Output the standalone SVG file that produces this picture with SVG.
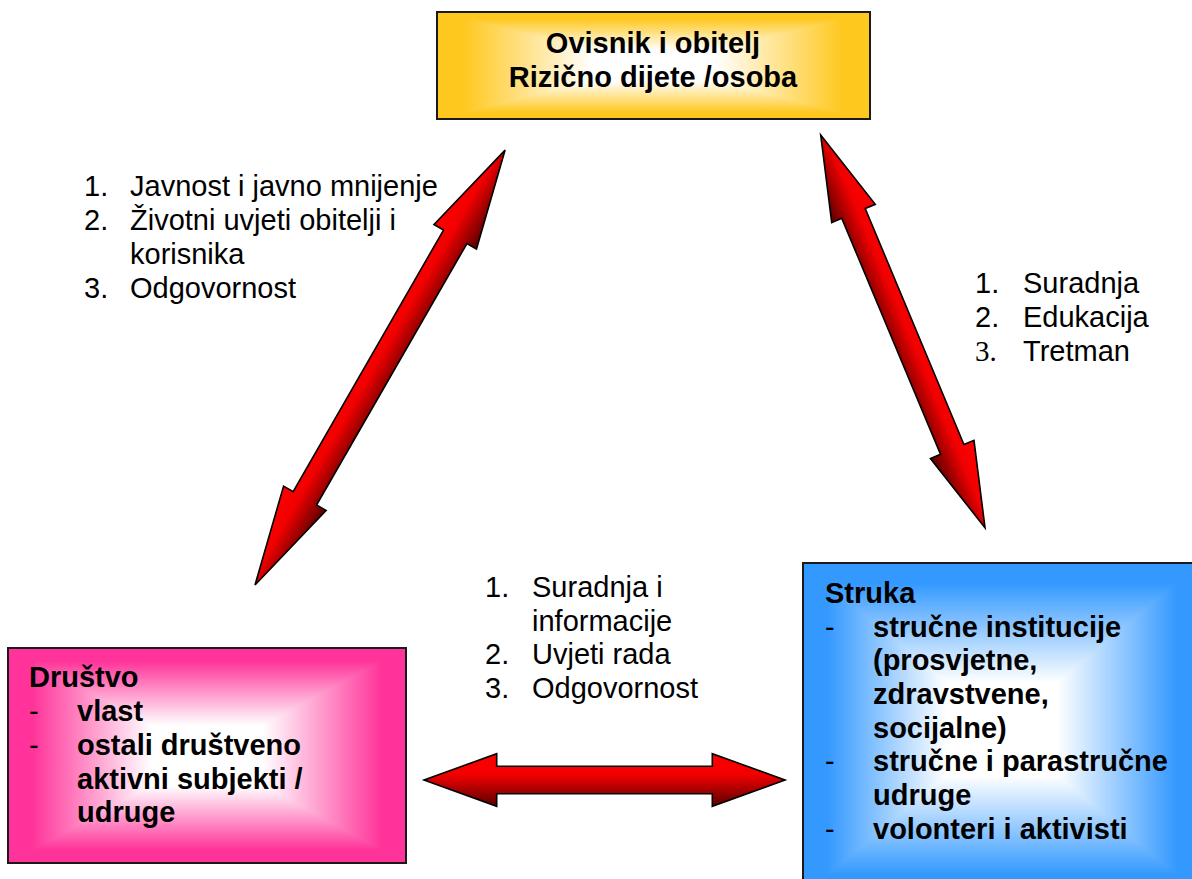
<svg xmlns="http://www.w3.org/2000/svg" xmlns:xlink="http://www.w3.org/1999/xlink" width="1192" height="879" viewBox="0 0 1192 879">
<style>
  .t { font-family: "Liberation Sans", Arial, sans-serif; font-size: 29px; fill: #000; }
  .b { font-weight: bold; }
  .s { font-family: "Liberation Serif", "Times New Roman", serif; font-size: 29px; fill: #000; }
  .box { fill: none; stroke: #1a1a1a; stroke-width: 2; }
  .tri { shape-rendering: crispEdges; }
  .arrow { stroke: #000; stroke-width: 1.6; stroke-linejoin: miter; fill: url(#red); }
</style>
<defs>
  <linearGradient id="wT" x1="0" y1="0" x2="0" y2="1">
    <stop offset="0" stop-color="#fff" stop-opacity="0"/>
    <stop offset="0.12" stop-color="#fff" stop-opacity="0"/>
    <stop offset="0.72" stop-color="#fff" stop-opacity="1"/>
    <stop offset="1" stop-color="#fff" stop-opacity="1"/>
  </linearGradient>
  <linearGradient id="wB" xlink:href="#wT" x1="0" y1="1" x2="0" y2="0"/>
  <linearGradient id="wL" xlink:href="#wT" x1="0" y1="0" x2="1" y2="0"/>
  <linearGradient id="wR" xlink:href="#wT" x1="1" y1="0" x2="0" y2="0"/>
  <linearGradient id="red" x1="0" y1="0" x2="0" y2="1">
    <stop offset="0" stop-color="#ff0000"/>
    <stop offset="0.4" stop-color="#f20000"/>
    <stop offset="0.8" stop-color="#8c0000"/>
    <stop offset="1" stop-color="#5a0000"/>
  </linearGradient>
</defs>

<g id="connectors">
  <path class="arrow" transform="translate(255,585) rotate(-60.1)" d="M0,0 L100,-24.5 L100,-13.5 L401.7,-13.5 L401.7,-24.5 L501.7,0 L401.7,24.5 L401.7,13.5 L100,13.5 L100,24.5 Z"/>
  <path class="arrow" transform="translate(820.7,135) rotate(67.3)" d="M0,0 L85,-23.6 L85,-12.7 L340.8,-12.7 L340.8,-23.6 L425.8,0 L340.8,23.6 L340.8,12.7 L85,12.7 L85,23.6 Z"/>
  <path class="arrow" d="M424,780 L496.7,753.7 L496.7,766.3 L712.3,766.3 L712.3,753.7 L785,780 L712.3,806.3 L712.3,793.7 L496.7,793.7 L496.7,806.3 Z"/>
</g>

<g id="label-left">
  <text class="t" x="84" y="196">1.</text><text class="t" x="130" y="196">Javnost i javno mnijenje</text>
  <text class="t" x="84" y="230">2.</text><text class="t" x="130" y="230">Životni uvjeti obitelji i</text>
  <text class="t" x="130" y="264">korisnika</text>
  <text class="t" x="84" y="298">3.</text><text class="t" x="130" y="298">Odgovornost</text>
</g>

<g id="label-right">
  <text class="t" x="975" y="292.5">1.</text><text class="t" x="1023" y="292.5">Suradnja</text>
  <text class="t" x="975" y="326.5">2.</text><text class="t" x="1023" y="326.5">Edukacija</text>
  <text class="s" x="975" y="360.5">3.</text><text class="t" x="1023" y="360.5">Tretman</text>
</g>

<g id="label-bottom">
  <text class="t" x="485" y="597">1.</text><text class="t" x="532" y="597">Suradnja i</text>
  <text class="t" x="532" y="630.5">informacije</text>
  <text class="t" x="485" y="664">2.</text><text class="t" x="532" y="664">Uvjeti rada</text>
  <text class="t" x="485" y="697.5">3.</text><text class="t" x="532" y="697.5">Odgovornost</text>
</g>

<g id="node-ovisnik">
  <rect x="437" y="12" width="433" height="107" fill="#ffc81e"/>
  <polygon class="tri" points="437,12 870,12 653.5,65.5" fill="url(#wT)"/>
  <polygon class="tri" points="437,119 870,119 653.5,65.5" fill="url(#wB)"/>
  <polygon class="tri" points="437,12 437,119 653.5,65.5" fill="url(#wL)"/>
  <polygon class="tri" points="870,12 870,119 653.5,65.5" fill="url(#wR)"/>
  <rect class="box" x="437" y="12" width="433" height="107"/>
  <text class="t b" x="653" y="53" text-anchor="middle">Ovisnik i obitelj</text>
  <text class="t b" x="653" y="87" text-anchor="middle">Rizično dijete /osoba</text>
</g>

<g id="node-drustvo">
  <rect x="8" y="648" width="398" height="215" fill="#ff3399"/>
  <polygon class="tri" points="8,648 406,648 207,755.5" fill="url(#wT)"/>
  <polygon class="tri" points="8,863 406,863 207,755.5" fill="url(#wB)"/>
  <polygon class="tri" points="8,648 8,863 207,755.5" fill="url(#wL)"/>
  <polygon class="tri" points="406,648 406,863 207,755.5" fill="url(#wR)"/>
  <rect class="box" x="8" y="648" width="398" height="215"/>
  <text class="t b" x="29" y="687">Društvo</text>
  <text class="t" x="29" y="721">-</text><text class="t b" x="77" y="721">vlast</text>
  <text class="t" x="29" y="755">-</text><text class="t b" x="77" y="755">ostali društveno</text>
  <text class="t b" x="77" y="788.5">aktivni subjekti /</text>
  <text class="t b" x="77" y="822">udruge</text>
</g>

<g id="node-struka">
  <rect x="803" y="563" width="398" height="332" fill="#3399ff"/>
  <polygon class="tri" points="803,563 1201,563 1002,729" fill="url(#wT)"/>
  <polygon class="tri" points="803,895 1201,895 1002,729" fill="url(#wB)"/>
  <polygon class="tri" points="803,563 803,895 1002,729" fill="url(#wL)"/>
  <polygon class="tri" points="1201,563 1201,895 1002,729" fill="url(#wR)"/>
  <rect class="box" x="803" y="563" width="398" height="332"/>
  <text class="t b" x="825" y="603">Struka</text>
  <text class="t" x="825" y="636.5">-</text><text class="t b" x="873" y="636.5">stručne institucije</text>
  <text class="t b" x="873" y="670">(prosvjetne,</text>
  <text class="t b" x="873" y="704">zdravstvene,</text>
  <text class="t b" x="873" y="737.5">socijalne)</text>
  <text class="t" x="825" y="771">-</text><text class="t b" x="873" y="771">stručne i parastručne</text>
  <text class="t b" x="873" y="805">udruge</text>
  <text class="t" x="825" y="838.5">-</text><text class="t b" x="873" y="838.5">volonteri i aktivisti</text>
</g>
</svg>
